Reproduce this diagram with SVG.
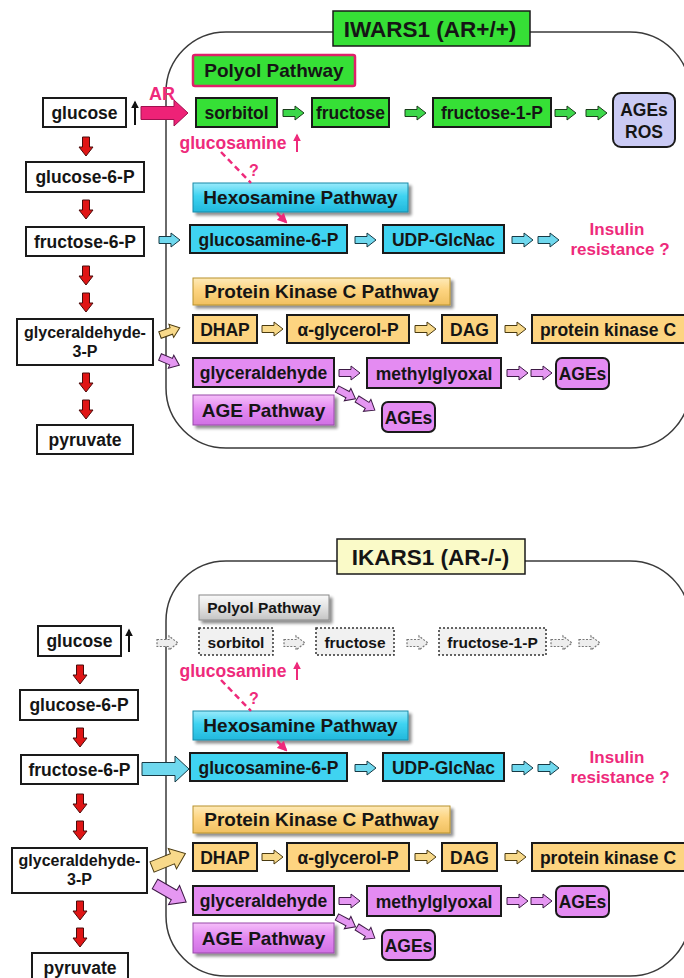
<svg xmlns="http://www.w3.org/2000/svg" xmlns:xlink="http://www.w3.org/1999/xlink" width="684" height="978" viewBox="0 0 684 978">
<defs>
<style>
.t{font-family:"Liberation Sans",Arial,sans-serif;font-weight:bold;fill:#151515;text-anchor:middle}
.n{font-size:17.5px}
.s{font-size:16px}
.h{font-size:19px}
.ttl{font-size:22.5px}
.ins{font-size:17px}
.pk{fill:#ee2a7b}
.frame{fill:none;stroke:#3a3a3a;stroke-width:1.5}
.bw{fill:#fff;stroke:#1a1a1a;stroke-width:2}
.g{fill:#36e036;stroke:#1a1a1a;stroke-width:2}
.c{fill:#3fd3f1;stroke:#1a1a1a;stroke-width:2}
.o{fill:#fdd480;stroke:#1a1a1a;stroke-width:2}
.v{fill:#e48bf2;stroke:#1a1a1a;stroke-width:2}
.dot{fill:#f1f1f1;stroke:#333;stroke-width:1.5;stroke-dasharray:2 2}
.ga{fill:#3cd84a;stroke:#1b3d1b;stroke-width:1}
.ca{fill:#6fd8ee;stroke:#173a45;stroke-width:1}
.oa{fill:#f8d98a;stroke:#4a3a10;stroke-width:1}
.va{fill:#e597f2;stroke:#3d1a45;stroke-width:1}
.ra{fill:#e01515;stroke:#4a0c0c;stroke-width:1}
.da{fill:#eeeeee;stroke:#777;stroke-width:1.2;stroke-dasharray:2 1.5}
.pa{fill:#ee2277;stroke:#a0104f;stroke-width:1}
.dash{fill:none;stroke:#ee2a7b;stroke-width:2.5;stroke-dasharray:6 4}
</style>
<linearGradient id="gc" x1="0" y1="0" x2="0" y2="1"><stop offset="0" stop-color="#9aeafb"/><stop offset="0.45" stop-color="#3fd3f1"/><stop offset="1" stop-color="#22b8dc"/></linearGradient>
<linearGradient id="go" x1="0" y1="0" x2="0" y2="1"><stop offset="0" stop-color="#feeab8"/><stop offset="0.45" stop-color="#fdd480"/><stop offset="1" stop-color="#f0c060"/></linearGradient>
<linearGradient id="gv" x1="0" y1="0" x2="0" y2="1"><stop offset="0" stop-color="#f5bff9"/><stop offset="0.45" stop-color="#e48bf2"/><stop offset="1" stop-color="#d070e4"/></linearGradient>
<linearGradient id="gg" x1="0" y1="0" x2="0" y2="1"><stop offset="0" stop-color="#fafafa"/><stop offset="0.5" stop-color="#e2e2e2"/><stop offset="1" stop-color="#c4c4c4"/></linearGradient>
<filter id="sh" x="-10%" y="-20%" width="130%" height="170%">
<feGaussianBlur in="SourceAlpha" stdDeviation="1.5"/><feOffset dx="3" dy="3"/>
<feComponentTransfer><feFuncA type="linear" slope="0.45"/></feComponentTransfer>
<feMerge><feMergeNode/><feMergeNode in="SourceGraphic"/></feMerge></filter>
<path id="ar" d="M0,-3.5 H12 V-7 L21,0 L12,7 V3.5 H0 Z"/>
<path id="bar" d="M0,-6.5 H33 V-13 L47,0 L33,13 V6.5 H0 Z"/>
<path id="mar" d="M0,-5.5 H22 V-11 L36,0 L22,11 V5.5 H0 Z"/>
<path id="rd" d="M-3.5,0 V10 H-7 L0,19 L7,10 H3.5 V0 Z"/>
<marker id="pkh" viewBox="0 0 10 10" refX="8" refY="5" markerWidth="4" markerHeight="4" orient="auto"><path d="M0,0 L10,5 L0,10 Z" fill="#ee2a7b"/></marker>
<marker id="bkh" viewBox="0 0 10 10" refX="8" refY="5" markerWidth="4" markerHeight="4" orient="auto"><path d="M0,0 L10,5 L0,10 Z" fill="#111"/></marker>
</defs>
<rect width="684" height="978" fill="#fff"/>

<!-- ===== TOP PANEL ===== -->
<rect class="frame" x="166" y="32" width="524" height="416" rx="60"/>
<g id="title-top"><rect x="333" y="11" width="197" height="35" fill="#36e036" stroke="#1a1a1a" stroke-width="1.5"/><text class="t ttl" x="430" y="37">IWARS1 (AR+/+)</text></g>

<g id="t-glucose"><rect class="bw" x="43" y="98" width="83" height="29"/><text class="t n" x="84.5" y="119">glucose</text></g>
<g id="t-g6p"><rect class="bw" x="26" y="162" width="118" height="30"/><text class="t n" x="85" y="183">glucose-6-P</text></g>
<g id="t-f6p"><rect class="bw" x="26" y="227" width="118" height="29"/><text class="t n" x="85" y="248">fructose-6-P</text></g>
<g id="t-g3p"><rect class="bw" x="17" y="319" width="136" height="46"/><text class="t s" x="85" y="338">glyceraldehyde-</text><text class="t s" x="85" y="357">3-P</text></g>
<g id="t-pyruvate"><rect class="bw" x="37" y="425" width="96" height="29"/><text class="t n" x="85" y="446">pyruvate</text></g>

<g id="t-polyol-hdr"><rect x="193" y="55" width="162" height="31" rx="2" fill="#36e036" stroke="#e0206a" stroke-width="2.5"/><text class="t h" x="274" y="77">Polyol Pathway</text></g>
<g id="t-sorbitol"><rect class="g" x="196" y="98" width="81" height="29"/><text class="t n" x="236.5" y="119">sorbitol</text></g>
<g id="t-fructose"><rect class="g" x="312" y="98" width="77" height="29"/><text class="t n" x="350.5" y="119">fructose</text></g>
<g id="t-f1p"><rect class="g" x="433" y="98" width="118" height="29"/><text class="t n" x="492" y="119">fructose-1-P</text></g>
<g id="t-agesros"><rect x="613" y="93" width="62" height="54" rx="8" fill="#cacaf4" stroke="#1a1a1a" stroke-width="2"/><text class="t n" x="644" y="116">AGEs</text><text class="t n" x="644" y="138">ROS</text></g>

<g id="t-glucosamine"><text class="t n pk" x="233" y="149">glucosamine</text></g>
<g id="t-hex-hdr"><rect x="193" y="183" width="215" height="29" fill="url(#gc)" stroke="#1a8aa8" stroke-width="1" filter="url(#sh)"/><text class="t h" x="300.5" y="204">Hexosamine Pathway</text></g>
<g id="t-gn6p"><rect class="c" x="190" y="225" width="157" height="28"/><text class="t n" x="268.5" y="245.5">glucosamine-6-P</text></g>
<g id="t-udp"><rect class="c" x="383" y="225" width="121" height="28"/><text class="t n" x="443.5" y="245.5">UDP-GlcNac</text></g>
<g id="t-insulin"><text class="t ins pk" x="617" y="235">Insulin</text><text class="t ins pk" x="620" y="255">resistance ?</text></g>

<g id="t-pkc-hdr"><rect x="193" y="278" width="257" height="27" fill="url(#go)" stroke="#b8922e" stroke-width="1" filter="url(#sh)"/><text class="t h" x="321.5" y="298">Protein Kinase C Pathway</text></g>
<g id="t-dhap"><rect class="o" x="193" y="315" width="64" height="28"/><text class="t n" x="225" y="335.5">DHAP</text></g>
<g id="t-agp"><rect class="o" x="287" y="315" width="122" height="28"/><text class="t n" x="348" y="335.5">α-glycerol-P</text></g>
<g id="t-dag"><rect class="o" x="442" y="315" width="55" height="28"/><text class="t n" x="469.5" y="335.5">DAG</text></g>
<g id="t-pkc"><rect class="o" x="532" y="315" width="156" height="28"/><text class="t n" x="608" y="335.5">protein kinase C</text></g>

<g id="t-glyald"><rect class="v" x="193" y="358" width="141" height="29"/><text class="t n" x="263.5" y="379">glyceraldehyde</text></g>
<g id="t-mgo"><rect class="v" x="367" y="358" width="134" height="30"/><text class="t n" x="434" y="379.5">methylglyoxal</text></g>
<g id="t-ages1"><rect class="v" x="556" y="358" width="53" height="31" rx="6"/><text class="t n" x="582.5" y="380">AGEs</text></g>
<g id="t-age-hdr"><rect x="193" y="395" width="141" height="30" fill="url(#gv)" stroke="#9a4aaa" stroke-width="1" filter="url(#sh)"/><text class="t h" x="263.5" y="417">AGE Pathway</text></g>
<g id="t-ages2"><rect class="v" x="382" y="402" width="53" height="30" rx="6"/><text class="t n" x="408.5" y="423.5">AGEs</text></g>

<g id="t-connectors">
<line x1="135" y1="125" x2="135" y2="102" stroke="#111" stroke-width="2" marker-end="url(#bkh)"/>
<use xlink:href="#rd" class="ra" transform="translate(86,137)"/>
<use xlink:href="#rd" class="ra" transform="translate(86,200)"/>
<use xlink:href="#rd" class="ra" transform="translate(86,266)"/>
<use xlink:href="#rd" class="ra" transform="translate(86,293)"/>
<use xlink:href="#rd" class="ra" transform="translate(86,373)"/>
<use xlink:href="#rd" class="ra" transform="translate(86,400)"/>
<use xlink:href="#bar" class="pa" transform="translate(141,113)"/>
<text class="t pk" style="font-size:18px" x="162" y="100">AR</text>
<use xlink:href="#ar" class="ga" transform="translate(283,113)"/>
<use xlink:href="#ar" class="ga" transform="translate(405,113)"/>
<use xlink:href="#ar" class="ga" transform="translate(555,113)"/>
<use xlink:href="#ar" class="ga" transform="translate(586,113)"/>
<line x1="297" y1="152" x2="297" y2="135" stroke="#ee2a7b" stroke-width="2" marker-end="url(#pkh)"/>
<line class="dash" x1="221" y1="152" x2="251" y2="183"/>
<text class="t pk" style="font-size:16px" x="254" y="176">?</text>
<line class="dash" x1="277" y1="213" x2="286" y2="222" stroke-dasharray="4 3" marker-end="url(#pkh)"/>
<use xlink:href="#ar" class="ca" transform="translate(159,240)"/>
<use xlink:href="#ar" class="ca" transform="translate(355,240)"/>
<use xlink:href="#ar" class="ca" transform="translate(512,240)"/>
<use xlink:href="#ar" class="ca" transform="translate(538,240)"/>
<use xlink:href="#ar" class="oa" transform="translate(160,335) rotate(-20)"/>
<use xlink:href="#ar" class="oa" transform="translate(262,329)"/>
<use xlink:href="#ar" class="oa" transform="translate(415,329)"/>
<use xlink:href="#ar" class="oa" transform="translate(505,329)"/>
<use xlink:href="#ar" class="va" transform="translate(160,357) rotate(23)"/>
<use xlink:href="#ar" class="va" transform="translate(339,373)"/>
<use xlink:href="#ar" class="va" transform="translate(507,373)"/>
<use xlink:href="#ar" class="va" transform="translate(531,373)"/>
<use xlink:href="#ar" class="va" transform="translate(337,389) rotate(28)"/>
<use xlink:href="#ar" class="va" transform="translate(357,399) rotate(32)"/>
</g>

<!-- ===== BOTTOM PANEL ===== -->
<rect class="frame" x="166" y="561" width="524" height="415" rx="60"/>
<g id="title-bot"><rect x="337" y="539" width="188" height="35" fill="#fafac8" stroke="#1a1a1a" stroke-width="1.5"/><text class="t ttl" x="430.5" y="565">IKARS1 (AR-/-)</text></g>

<g id="b-glucose"><rect class="bw" x="38" y="626" width="83" height="30"/><text class="t n" x="79.5" y="647">glucose</text></g>
<g id="b-g6p"><rect class="bw" x="20" y="690" width="118" height="30"/><text class="t n" x="79" y="711">glucose-6-P</text></g>
<g id="b-f6p"><rect class="bw" x="21" y="755" width="117" height="29"/><text class="t n" x="79.5" y="776">fructose-6-P</text></g>
<g id="b-g3p"><rect class="bw" x="12" y="848" width="135" height="45"/><text class="t s" x="79.5" y="866">glyceraldehyde-</text><text class="t s" x="79.5" y="885">3-P</text></g>
<g id="b-pyruvate"><rect class="bw" x="32" y="953" width="96" height="29"/><text class="t n" x="80" y="974">pyruvate</text></g>

<g id="b-polyol-hdr"><rect x="199" y="595" width="130" height="25" fill="url(#gg)" stroke="#888" stroke-width="1" filter="url(#sh)"/><text class="t" style="font-size:15.5px" x="264" y="613">Polyol Pathway</text></g>
<g id="b-sorbitol"><rect class="dot" x="199" y="628" width="74" height="27"/><text class="t" style="font-size:15.5px" x="236" y="647.5">sorbitol</text></g>
<g id="b-fructose"><rect class="dot" x="316" y="628" width="78" height="27"/><text class="t" style="font-size:15.5px" x="355" y="647.5">fructose</text></g>
<g id="b-f1p"><rect class="dot" x="439" y="628" width="107" height="27"/><text class="t" style="font-size:15.5px" x="492.5" y="647.5">fructose-1-P</text></g>

<g id="b-glucosamine"><text class="t n pk" x="233" y="677">glucosamine</text></g>
<g id="b-hex-hdr"><rect x="193" y="711" width="215" height="29" fill="url(#gc)" stroke="#1a8aa8" stroke-width="1" filter="url(#sh)"/><text class="t h" x="300.5" y="732">Hexosamine Pathway</text></g>
<g id="b-gn6p"><rect class="c" x="190" y="753" width="157" height="28"/><text class="t n" x="268.5" y="773.5">glucosamine-6-P</text></g>
<g id="b-udp"><rect class="c" x="383" y="753" width="121" height="28"/><text class="t n" x="443.5" y="773.5">UDP-GlcNac</text></g>
<g id="b-insulin"><text class="t ins pk" x="617" y="763">Insulin</text><text class="t ins pk" x="620" y="783">resistance ?</text></g>

<g id="b-pkc-hdr"><rect x="193" y="806" width="257" height="27" fill="url(#go)" stroke="#b8922e" stroke-width="1" filter="url(#sh)"/><text class="t h" x="321.5" y="826">Protein Kinase C Pathway</text></g>
<g id="b-dhap"><rect class="o" x="193" y="843" width="64" height="28"/><text class="t n" x="225" y="863.5">DHAP</text></g>
<g id="b-agp"><rect class="o" x="287" y="843" width="122" height="28"/><text class="t n" x="348" y="863.5">α-glycerol-P</text></g>
<g id="b-dag"><rect class="o" x="442" y="843" width="55" height="28"/><text class="t n" x="469.5" y="863.5">DAG</text></g>
<g id="b-pkc"><rect class="o" x="532" y="843" width="156" height="28"/><text class="t n" x="608" y="863.5">protein kinase C</text></g>

<g id="b-glyald"><rect class="v" x="193" y="886" width="141" height="29"/><text class="t n" x="263.5" y="907">glyceraldehyde</text></g>
<g id="b-mgo"><rect class="v" x="367" y="886" width="134" height="30"/><text class="t n" x="434" y="907.5">methylglyoxal</text></g>
<g id="b-ages1"><rect class="v" x="556" y="886" width="53" height="31" rx="6"/><text class="t n" x="582.5" y="908">AGEs</text></g>
<g id="b-age-hdr"><rect x="193" y="923" width="141" height="30" fill="url(#gv)" stroke="#9a4aaa" stroke-width="1" filter="url(#sh)"/><text class="t h" x="263.5" y="945">AGE Pathway</text></g>
<g id="b-ages2"><rect class="v" x="382" y="930" width="53" height="30" rx="6"/><text class="t n" x="408.5" y="951.5">AGEs</text></g>

<g id="b-connectors">
<line x1="129" y1="652" x2="129" y2="630" stroke="#111" stroke-width="2" marker-end="url(#bkh)"/>
<use xlink:href="#rd" class="ra" transform="translate(80,665)"/>
<use xlink:href="#rd" class="ra" transform="translate(80,728)"/>
<use xlink:href="#rd" class="ra" transform="translate(80,794)"/>
<use xlink:href="#rd" class="ra" transform="translate(80,821)"/>
<use xlink:href="#rd" class="ra" transform="translate(80,901)"/>
<use xlink:href="#rd" class="ra" transform="translate(80,928)"/>
<use xlink:href="#ar" class="da" transform="translate(157,643)"/>
<use xlink:href="#ar" class="da" transform="translate(284,643)"/>
<use xlink:href="#ar" class="da" transform="translate(407,643)"/>
<use xlink:href="#ar" class="da" transform="translate(551,643)"/>
<use xlink:href="#ar" class="da" transform="translate(579,643)"/>
<line x1="297" y1="680" x2="297" y2="663" stroke="#ee2a7b" stroke-width="2" marker-end="url(#pkh)"/>
<line class="dash" x1="221" y1="680" x2="251" y2="711"/>
<text class="t pk" style="font-size:16px" x="254" y="704">?</text>
<line class="dash" x1="277" y1="741" x2="286" y2="750" stroke-dasharray="4 3" marker-end="url(#pkh)"/>
<use xlink:href="#bar" class="ca" transform="translate(142,769)"/>
<use xlink:href="#ar" class="ca" transform="translate(355,768)"/>
<use xlink:href="#ar" class="ca" transform="translate(512,768)"/>
<use xlink:href="#ar" class="ca" transform="translate(538,768)"/>
<use xlink:href="#mar" class="oa" transform="translate(152,867) rotate(-22)"/>
<use xlink:href="#ar" class="oa" transform="translate(262,857)"/>
<use xlink:href="#ar" class="oa" transform="translate(415,857)"/>
<use xlink:href="#ar" class="oa" transform="translate(505,857)"/>
<use xlink:href="#mar" class="va" transform="translate(155,884) rotate(30)"/>
<use xlink:href="#ar" class="va" transform="translate(339,901)"/>
<use xlink:href="#ar" class="va" transform="translate(507,901)"/>
<use xlink:href="#ar" class="va" transform="translate(531,901)"/>
<use xlink:href="#ar" class="va" transform="translate(337,917) rotate(28)"/>
<use xlink:href="#ar" class="va" transform="translate(357,927) rotate(32)"/>
</g>
</svg>
